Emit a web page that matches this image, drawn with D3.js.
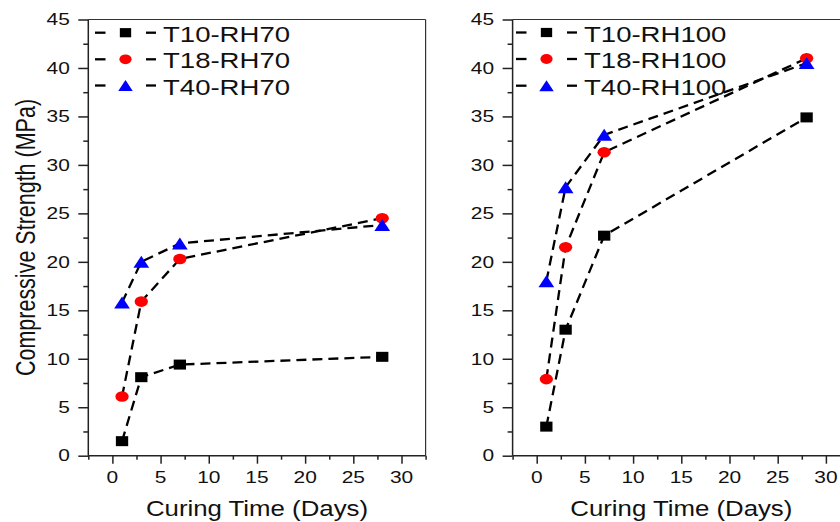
<!DOCTYPE html>
<html><head><meta charset="utf-8">
<script src="https://cdn.jsdelivr.net/npm/d3@7"></script>
<style>html,body{margin:0;padding:0;background:#fff;}svg{display:block;}</style>
</head><body>
<svg id="chart" width="840" height="522"></svg>
<script>
const days = [1, 3, 7, 28];
const leftNames = ["T10-RH70", "T18-RH70", "T40-RH70"];
const t10rh70 = [1.5, 8.1, 9.4, 10.2];
const t18rh70 = [6.1, 15.9, 20.3, 24.5];
const t40rh70 = [15.8, 20.0, 21.9, 23.8];
const rightNames = ["T10-RH100", "T18-RH100", "T40-RH100"];
const t10rh100 = [3.0, 13.0, 22.7, 34.9];
const t18rh100 = [7.9, 21.5, 31.3, 41.0];
const t40rh100 = [18.0, 27.7, 33.1, 40.5];
const xTicks = [0, 5, 10, 15, 20, 25, 30];
const yTicks = [0, 5, 10, 15, 20, 25, 30, 35, 40, 45];
const xLabel = "Curing Time (Days)";
const yLabel = "Compressive Strength (MPa)";

const svg = d3.select("#chart");
const FONT = "'Liberation Sans', Arial, sans-serif";
const SX = 1.23;
const markerTypes = ["square", "circle", "triangle"];
const markerColors = ["#000000", "#ff0000", "#0000ff"];

function stext(g, x, y, str, size, anchor, sx) {
  return g.append("text")
    .attr("transform", `translate(${x},${y}) scale(${sx},1)`)
    .attr("text-anchor", anchor)
    .attr("dominant-baseline", "central")
    .attr("font-family", FONT)
    .attr("font-size", size)
    .attr("fill", "#111")
    .text(str);
}

function marker(g, type, x, y, color, scaleF) {
  const s = scaleF || 1;
  let p;
  if (type === "square") {
    p = g.append("rect").attr("x", -5 * s).attr("y", -5 * s).attr("width", 10 * s).attr("height", 10 * s);
  } else if (type === "circle") {
    p = g.append("ellipse").attr("rx", 5.4 * s).attr("ry", 5.3 * s);
  } else {
    const w = 6.4 * s, h = 6.0 * s;
    p = g.append("path").attr("d", `M0,${-h}L${w},${h}L${-w},${h}Z`);
  }
  p.attr("fill", color).attr("transform", `translate(${x},${y}) scale(${SX},1)`);
}

function panel(cfg) {
  const g = svg.append("g");
  const x = d3.scaleLinear().domain([-2.5, 32.5]).range([cfg.x0, cfg.x1]);
  const y = d3.scaleLinear().domain([0, 45]).range([455.7, 19.5]);

  // frame (top and right)
  g.append("line").attr("x1", cfg.x0).attr("x2", cfg.x1).attr("y1", y(45)).attr("y2", y(45))
    .attr("stroke", "#333").attr("stroke-width", 1.2);
  g.append("line").attr("x1", cfg.x1).attr("x2", cfg.x1).attr("y1", y(45)).attr("y2", y(0))
    .attr("stroke", "#333").attr("stroke-width", 1.2);

  // y axis
  const yAx = g.append("g").attr("transform", `translate(${cfg.x0},0)`)
    .call(d3.axisLeft(y).tickValues(d3.range(0, 45.1, 2.5)).tickSize(5).tickFormat(""));
  yAx.selectAll(".tick line").filter(d => d % 5 === 0).attr("x2", -10);
  yAx.selectAll("path,line").attr("stroke", "#222").attr("stroke-width", 1.5);
  yAx.select(".domain").attr("d", `M0,${y(45)}V${y(0)}`);
  yTicks.forEach(v => stext(g, cfg.x0 - 18.5, y(v), String(v), 17, "end", SX));

  // x axis
  const xAx = g.append("g").attr("transform", `translate(0,${y(0)})`)
    .call(d3.axisBottom(x).tickValues(d3.range(-2.5, 32.6, 2.5)).tickSize(4).tickFormat(""));
  xAx.selectAll(".tick line").filter(d => Math.abs(d % 5) < 1e-9).attr("y2", 8);
  xAx.selectAll("path,line").attr("stroke", "#222").attr("stroke-width", 1.5);
  xAx.select(".domain").attr("d", `M${cfg.x0},0H${cfg.x1}`);
  xTicks.forEach(v => stext(g, x(v), 477.5, String(v), 17, "middle", SX));

  stext(g, (cfg.x0 + cfg.x1) / 2, 509, xLabel, 21.5, "middle", 1.2);

  // lines
  const line = d3.line().x(d => x(d[0])).y(d => y(d[1]));
  cfg.series.forEach(s => {
    g.append("path").datum(days.map((d, i) => [d, s[i]]))
      .attr("d", line).attr("fill", "none").attr("stroke", "#000")
      .attr("stroke-width", 2.3).attr("stroke-dasharray", "10,6");
  });
  cfg.series.forEach((s, k) => {
    days.forEach((d, i) => marker(g, markerTypes[k], x(d), y(s[i]), markerColors[k]));
  });

  // legend
  cfg.names.forEach((nm, k) => {
    const ly = cfg.legY[k];
    const lx = cfg.legX;
    g.append("line").attr("x1", lx).attr("x2", lx + 10.5).attr("y1", ly).attr("y2", ly)
      .attr("stroke", "#000").attr("stroke-width", 2.3);
    g.append("line").attr("x1", lx + 51).attr("x2", lx + 61).attr("y1", ly).attr("y2", ly)
      .attr("stroke", "#000").attr("stroke-width", 2.3);
    marker(g, markerTypes[k], lx + 30.5, ly, markerColors[k], 0.92);
    stext(g, lx + 68, ly + 1, nm, 22.4, "start", SX);
  });
}

panel({x0: 88.3, x1: 425.6, series: [t10rh70, t18rh70, t40rh70], names: leftNames,
       legX: 95, legY: [32.7, 59.3, 85.5]});
panel({x0: 512.6, x1: 850, series: [t10rh100, t18rh100, t40rh100], names: rightNames,
       legX: 516, legY: [32.5, 59, 85.7]});

// y axis title
svg.append("text")
  .attr("transform", `translate(35,237.5) scale(1.28,1) rotate(-90)`)
  .attr("text-anchor", "middle")
  .attr("font-family", FONT)
  .attr("font-size", 21.5)
  .attr("fill", "#111")
  .text(yLabel);
</script>
</body></html>
